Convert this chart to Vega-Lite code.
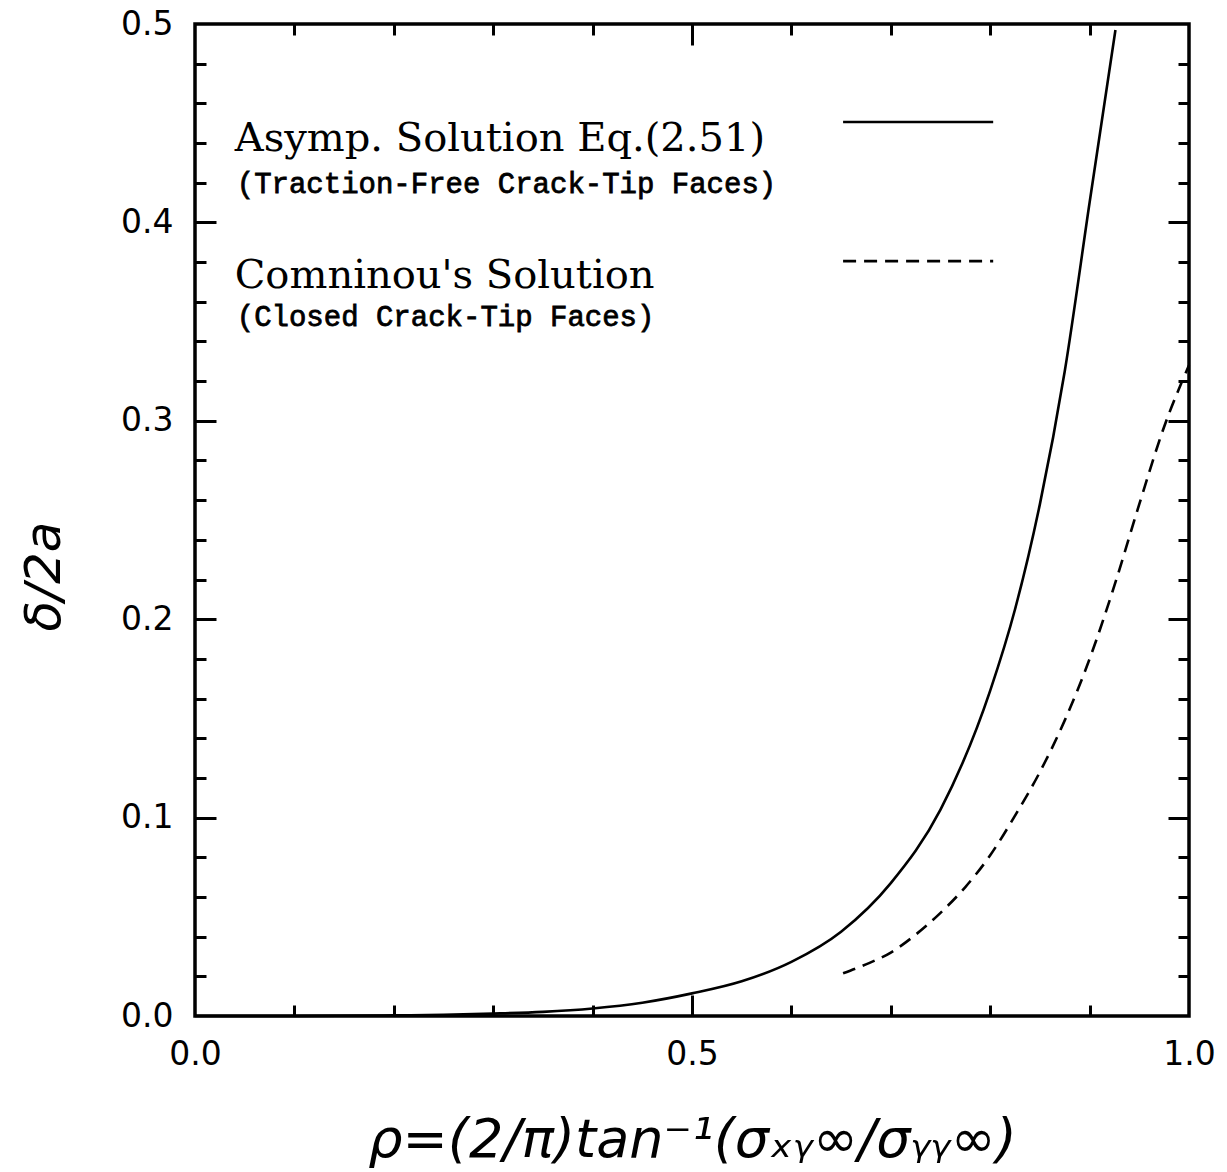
{
  "$schema": "https://vega.github.io/schema/vega-lite/v6.json",
  "width": 994,
  "height": 992,
  "autosize": "none",
  "padding": {"left": 195, "top": 24, "right": 38, "bottom": 156},
  "background": "white",
  "config": {
    "view": {"stroke": "black", "strokeWidth": 3.5},
    "axis": {"grid": false, "domain": false, "tickColor": "black", "tickWidth": 3, "labelColor": "black", "titleColor": "black"}
  },
  "datasets": {
    "asymp": [
      {"rho": 0.0, "delta": 0.0},
      {"rho": 0.1, "delta": 0.0},
      {"rho": 0.2, "delta": 0.0003},
      {"rho": 0.25, "delta": 0.0006},
      {"rho": 0.3, "delta": 0.0012},
      {"rho": 0.35, "delta": 0.0021},
      {"rho": 0.4, "delta": 0.0038},
      {"rho": 0.45, "delta": 0.0067},
      {"rho": 0.5, "delta": 0.0114},
      {"rho": 0.55, "delta": 0.0175},
      {"rho": 0.6, "delta": 0.0273},
      {"rho": 0.65, "delta": 0.0425},
      {"rho": 0.7, "delta": 0.067},
      {"rho": 0.75, "delta": 0.104},
      {"rho": 0.8, "delta": 0.164},
      {"rho": 0.825, "delta": 0.205},
      {"rho": 0.85, "delta": 0.258},
      {"rho": 0.875, "delta": 0.325},
      {"rho": 0.9, "delta": 0.41},
      {"rho": 0.926, "delta": 0.497}
    ],
    "comninou": [
      {"rho": 0.652, "delta": 0.0215},
      {"rho": 0.675, "delta": 0.026},
      {"rho": 0.7, "delta": 0.032},
      {"rho": 0.725, "delta": 0.041},
      {"rho": 0.75, "delta": 0.052},
      {"rho": 0.775, "delta": 0.065},
      {"rho": 0.8, "delta": 0.081},
      {"rho": 0.825, "delta": 0.101},
      {"rho": 0.85, "delta": 0.123},
      {"rho": 0.875, "delta": 0.149},
      {"rho": 0.9, "delta": 0.18},
      {"rho": 0.925, "delta": 0.217},
      {"rho": 0.95, "delta": 0.258},
      {"rho": 0.975, "delta": 0.297},
      {"rho": 1.0, "delta": 0.328}
    ],
    "keySolid": [
      {"rho": 0.652, "delta": 0.4506},
      {"rho": 0.803, "delta": 0.4506}
    ],
    "keyDashed": [
      {"rho": 0.652, "delta": 0.3805},
      {"rho": 0.803, "delta": 0.3805}
    ],
    "keyTitles": [
      {"rho": 0.04, "delta": 0.436, "label": "Asymp. Solution Eq.(2.51)"},
      {"rho": 0.04, "delta": 0.367, "label": "Comninou's Solution"}
    ],
    "keyNotes": [
      {"rho": 0.042, "delta": 0.415, "label": "(Traction-Free Crack-Tip Faces)"},
      {"rho": 0.042, "delta": 0.348, "label": "(Closed Crack-Tip Faces)"}
    ]
  },
  "resolve": {"axis": {"x": "independent", "y": "independent"}},
  "layer": [
    {
      "data": {"name": "asymp"},
      "mark": {"type": "line", "color": "black", "strokeWidth": 2.6, "interpolate": "monotone"},
      "encoding": {
        "x": {"field": "rho", "type": "quantitative", "scale": {"domain": [0, 1], "nice": false},
          "axis": {"orient": "bottom", "values": [0, 0.5, 1], "format": ".1f", "ticks": false, "labelFlush": false, "labelFontSize": 33, "labelFont": "DejaVu Sans", "labelPadding": 22,
            "title": "ρ=(2/π)tan⁻¹(σₓᵧ∞/σᵧᵧ∞)", "titleFont": "DejaVu Sans", "titleFontStyle": "italic", "titleFontWeight": "normal", "titleFontSize": 54, "titlePadding": 42}},
        "y": {"field": "delta", "type": "quantitative", "scale": {"domain": [0, 0.5], "nice": false},
          "axis": {"orient": "left", "values": [0, 0.1, 0.2, 0.3, 0.4, 0.5], "format": ".1f", "ticks": false, "labelFontSize": 33, "labelFont": "DejaVu Sans", "labelPadding": 22,
            "title": "δ/2a", "titleFont": "DejaVu Sans", "titleFontStyle": "italic", "titleFontWeight": "normal", "titleFontSize": 50, "titleX": -126, "titleY": 552}}
      }
    },
    {
      "data": {"name": "comninou"},
      "mark": {"type": "line", "color": "black", "strokeWidth": 2.6, "strokeDash": [13, 8], "interpolate": "monotone"},
      "encoding": {
        "x": {"field": "rho", "type": "quantitative", "scale": {"domain": [0, 1], "nice": false},
          "axis": {"orient": "bottom", "values": [0.5], "labels": false, "tickSize": -21, "title": null}},
        "y": {"field": "delta", "type": "quantitative", "scale": {"domain": [0, 0.5], "nice": false},
          "axis": {"orient": "left", "values": [0.1, 0.2, 0.3, 0.4], "labels": false, "tickSize": -21, "title": null}}
      }
    },
    {
      "data": {"name": "keySolid"},
      "mark": {"type": "line", "color": "black", "strokeWidth": 2.6},
      "encoding": {
        "x": {"field": "rho", "type": "quantitative", "scale": {"domain": [0, 1], "nice": false},
          "axis": {"orient": "bottom", "values": [0.1, 0.2, 0.3, 0.4, 0.6, 0.7, 0.8, 0.9], "labels": false, "tickSize": -11, "title": null}},
        "y": {"field": "delta", "type": "quantitative", "scale": {"domain": [0, 0.5], "nice": false},
          "axis": {"orient": "left", "values": [0.02, 0.04, 0.06, 0.08, 0.12, 0.14, 0.16, 0.18, 0.22, 0.24, 0.26, 0.28, 0.32, 0.34, 0.36, 0.38, 0.42, 0.44, 0.46, 0.48], "labels": false, "tickSize": -11, "title": null}}
      }
    },
    {
      "data": {"name": "keyDashed"},
      "mark": {"type": "line", "color": "black", "strokeWidth": 2.6, "strokeDash": [13, 8]},
      "encoding": {
        "x": {"field": "rho", "type": "quantitative", "scale": {"domain": [0, 1], "nice": false},
          "axis": {"orient": "top", "values": [0.1, 0.2, 0.3, 0.4, 0.6, 0.7, 0.8, 0.9], "labels": false, "tickSize": -11, "title": null}},
        "y": {"field": "delta", "type": "quantitative", "scale": {"domain": [0, 0.5], "nice": false},
          "axis": {"orient": "right", "values": [0.02, 0.04, 0.06, 0.08, 0.12, 0.14, 0.16, 0.18, 0.22, 0.24, 0.26, 0.28, 0.32, 0.34, 0.36, 0.38, 0.42, 0.44, 0.46, 0.48], "labels": false, "tickSize": -11, "title": null}}
      }
    },
    {
      "data": {"name": "keyTitles"},
      "mark": {"type": "text", "align": "left", "baseline": "alphabetic", "font": "DejaVu Serif", "fontSize": 40, "color": "black"},
      "encoding": {
        "x": {"field": "rho", "type": "quantitative", "scale": {"domain": [0, 1], "nice": false},
          "axis": {"orient": "top", "values": [0.5], "labels": false, "tickSize": -21, "title": null}},
        "y": {"field": "delta", "type": "quantitative", "scale": {"domain": [0, 0.5], "nice": false},
          "axis": {"orient": "right", "values": [0.1, 0.2, 0.3, 0.4], "labels": false, "tickSize": -21, "title": null}},
        "text": {"field": "label"}
      }
    },
    {
      "data": {"name": "keyNotes"},
      "mark": {"type": "text", "align": "left", "baseline": "alphabetic", "font": "Liberation Mono", "fontSize": 29, "color": "black", "stroke": "black", "strokeWidth": 0.8},
      "encoding": {
        "x": {"field": "rho", "type": "quantitative", "scale": {"domain": [0, 1], "nice": false}, "axis": null},
        "y": {"field": "delta", "type": "quantitative", "scale": {"domain": [0, 0.5], "nice": false}, "axis": null},
        "text": {"field": "label"}
      }
    }
  ]
}
